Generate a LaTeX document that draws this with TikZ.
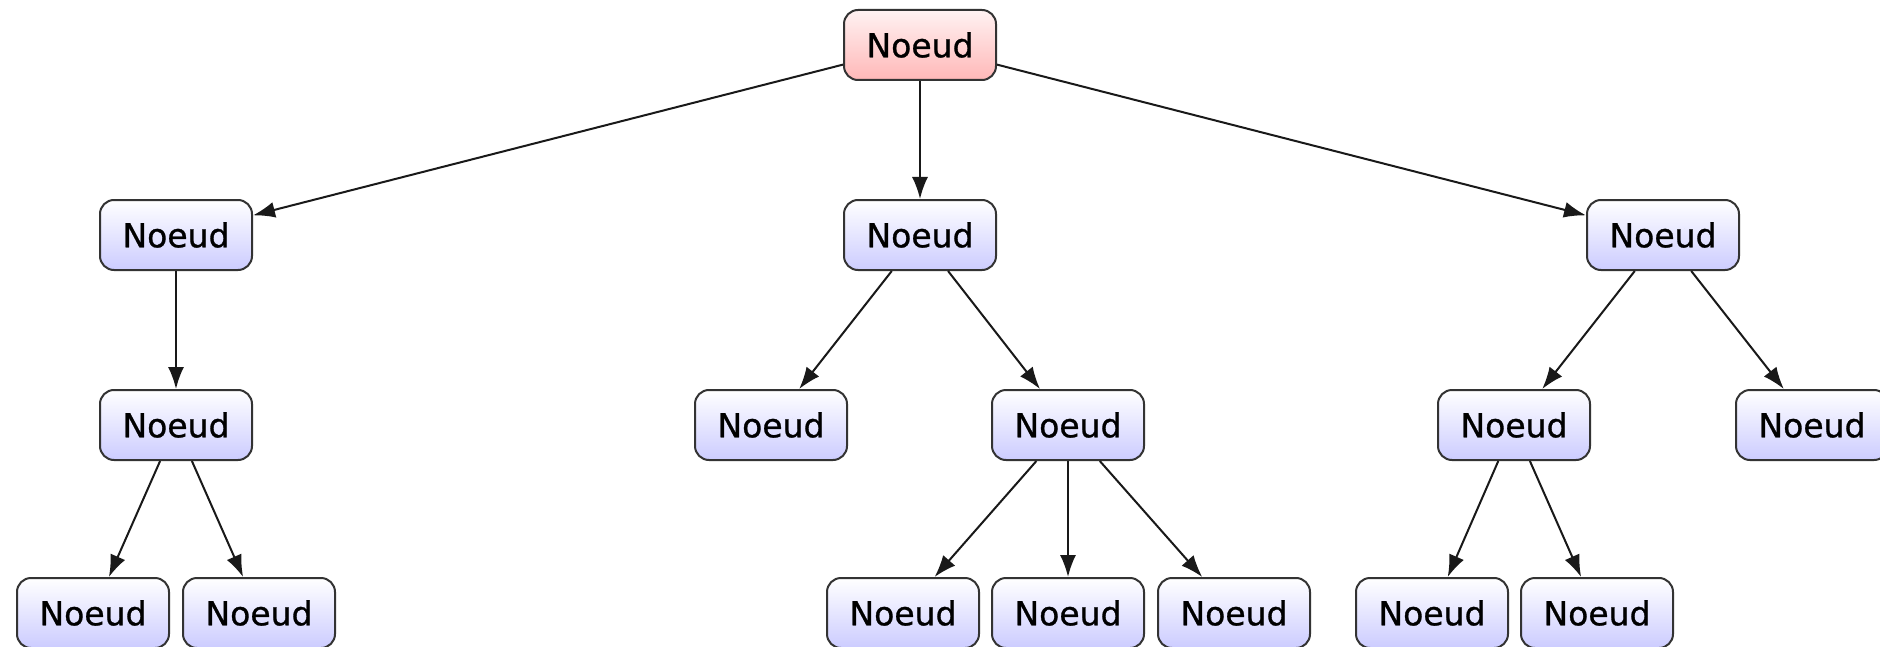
\documentclass[tikz,border=0pt]{standalone}
\usepackage{fontspec}
\setmainfont{DejaVu Sans}
\newfontfamily\labelfont[FakeBold=0.9]{DejaVu Sans}
\usetikzlibrary{arrows.meta}
\begin{document}
\begin{tikzpicture}[x=0.5pt,y=-0.5pt,
  noeud/.style={draw=black!80, line width=1pt, rounded corners=7pt,
    minimum width=76pt, minimum height=35pt, inner sep=0pt,
    top color=white, bottom color=blue!20,
    font=\labelfont\fontsize{16.5}{18}\selectfont},
  racine/.style={noeud, top color=red!5, bottom color=red!28},
  lien/.style={-{Latex[length=11pt,width=8pt]}, line width=1pt, draw=black!90}]
\useasboundingbox (0,0) rectangle (1880,647);
% root
\node[racine] (r) at (920,45) {Noeud};
% first level
\node[noeud] (a) at (176,235) {Noeud};
\node[noeud] (b) at (920,235) {Noeud};
\node[noeud] (c) at (1663,235) {Noeud};
% second level
\node[noeud] (a1) at (176,425) {Noeud};
\node[noeud] (b1) at (771,425) {Noeud};
\node[noeud] (b2) at (1068,425) {Noeud};
\node[noeud] (c1) at (1514,425) {Noeud};
\node[noeud] (c2) at (1812,425) {Noeud};
% third level
\node[noeud] (a11) at (93,613) {Noeud};
\node[noeud] (a12) at (259,613) {Noeud};
\node[noeud] (b21) at (903,613) {Noeud};
\node[noeud] (b22) at (1068,613) {Noeud};
\node[noeud] (b23) at (1234,613) {Noeud};
\node[noeud] (c11) at (1432,613) {Noeud};
\node[noeud] (c12) at (1597,613) {Noeud};
% connectors
\draw[lien] (r) -- (a);
\draw[lien] (r) -- (b);
\draw[lien] (r) -- (c);
\draw[lien] (a) -- (a1);
\draw[lien] (b) -- (b1);
\draw[lien] (b) -- (b2);
\draw[lien] (c) -- (c1);
\draw[lien] (c) -- (c2);
\draw[lien] (a1) -- (a11);
\draw[lien] (a1) -- (a12);
\draw[lien] (b2) -- (b21);
\draw[lien] (b2) -- (b22);
\draw[lien] (b2) -- (b23);
\draw[lien] (c1) -- (c11);
\draw[lien] (c1) -- (c12);
\end{tikzpicture}
\end{document}
